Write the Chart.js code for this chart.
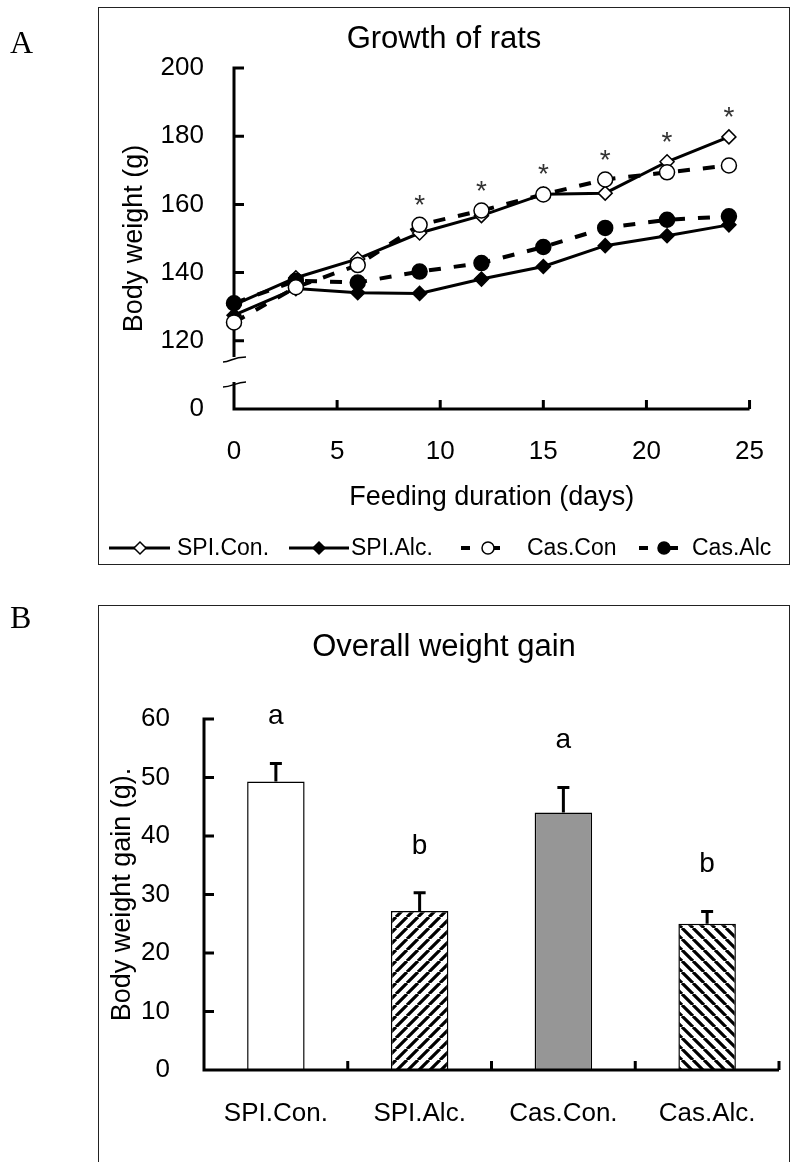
<!DOCTYPE html>
<html>
<head>
<meta charset="utf-8">
<title>Growth of rats</title>
<script src="https://cdn.jsdelivr.net/npm/chart.js@4.4.1/dist/chart.umd.min.js"></script>
<style>
  body { margin: 0; background: #fff; }
  #page { position: relative; width: 791px; height: 1162px; overflow: hidden; }
  canvas { position: absolute; left: 0; }
  #chartA { top: 0; }
  #chartB { top: 565px; }
  .frame { position: absolute; left: 98px; width: 692px; border: 1.5px solid #222; box-sizing: border-box; pointer-events: none; }
  #frameA { top: 7px; height: 558px; }
  #frameB { top: 605px; height: 600px; }
  .tag { position: absolute; left: 10px; font: 32px "Liberation Serif", "Times New Roman", serif; line-height: 1; }
</style>
</head>
<body>
<div id="page">
  <canvas id="chartA" width="791" height="565"></canvas>
  <canvas id="chartB" width="791" height="597"></canvas>
  <div class="frame" id="frameA"></div>
  <div class="frame" id="frameB"></div>
  <div class="tag" style="top:26px">A</div>
  <div class="tag" style="top:601px">B</div>
</div>
<script>
// panel A: body weight over time
const days = [0, 3, 6, 9, 12, 15, 18, 21, 24];
const spiCon = [130.5, 138.5, 144.0, 151.6, 156.7, 163.0, 163.3, 172.5, 179.8];
const spiAlc = [127.5, 135.3, 134.1, 133.9, 138.1, 141.8, 147.9, 150.8, 154.0];
const casCon = [125.4, 135.7, 142.2, 154.0, 158.2, 162.9, 167.3, 169.4, 171.4];
const casAlc = [131.0, 137.6, 137.1, 140.3, 142.8, 147.5, 153.1, 155.5, 156.5];
const sigDays = [9, 12, 15, 18, 21, 24];

// panel B: overall weight gain
const groups = ['SPI.Con.', 'SPI.Alc.', 'Cas.Con.', 'Cas.Alc.'];
const gain = [49.3, 27.2, 44.0, 25.0];
const gainErr = [3.1, 3.1, 4.3, 2.1];
const gainLetters = ['a', 'b', 'a', 'b'];

Chart.defaults.font.family = '"Liberation Sans", Arial, sans-serif';
Chart.defaults.color = '#000';

const ink = '#000';
const FONT = '"Liberation Sans", Arial, sans-serif';

function toPoints(vals) {
    return vals.map((v, i) => ({ x: days[i], y: v }));
}

function makeHatch(dir) {
    const s = 11;
    const c = document.createElement('canvas');
    c.width = s;
    c.height = s;
    const g = c.getContext('2d');
    g.fillStyle = '#fff';
    g.fillRect(0, 0, s, s);
    g.strokeStyle = '#000';
    g.lineWidth = 3.2;
    g.beginPath();
    for (let k = -1; k <= 1; k++) {
        if (dir > 0) {
            g.moveTo(k * s, s);
            g.lineTo(k * s + s, 0);
        } else {
            g.moveTo(k * s, 0);
            g.lineTo(k * s + s, s);
        }
    }
    g.stroke();
    return g.createPattern(c, 'repeat');
}

const seriesA = [
    { label: 'SPI.Con.', data: toPoints(spiCon), borderDash: [], pointStyle: 'rectRot', pointRadius: 7, pointBackgroundColor: '#fff', order: 2 },
    { label: 'SPI.Alc.', data: toPoints(spiAlc), borderDash: [], pointStyle: 'rectRot', pointRadius: 7, pointBackgroundColor: ink, order: 2 },
    { label: 'Cas.Con', data: toPoints(casCon), borderDash: [12, 13], pointStyle: 'circle', pointRadius: 7.5, pointBackgroundColor: '#fff', order: 1 },
    { label: 'Cas.Alc', data: toPoints(casAlc), borderDash: [12, 13], pointStyle: 'circle', pointRadius: 7.5, pointBackgroundColor: ink, order: 1 }
].map(d => Object.assign({
    borderColor: ink,
    borderWidth: d.borderDash.length ? 4 : 3,
    pointBorderColor: ink,
    pointBorderWidth: 1.5,
    tension: 0,
    clip: false
}, d));

const axesA = {
    id: 'axesA',
    beforeDatasetsDraw(chart) {
        const { ctx, chartArea: a, scales: { x, y } } = chart;
        const y0 = y.getPixelForValue(100);
        const yb = y0 - 52;
        const yc = y0 - 27;
        ctx.save();
        ctx.strokeStyle = ink;
        ctx.lineWidth = 3;
        ctx.beginPath();
        ctx.moveTo(a.left, a.top - 1);
        ctx.lineTo(a.left, yb);
        ctx.moveTo(a.left, yc);
        ctx.lineTo(a.left, y0);
        ctx.lineTo(a.right, y0);
        y.ticks.forEach(t => {
            if (t.value > 100) {
                const p = y.getPixelForValue(t.value);
                ctx.moveTo(a.left - 1.5, p);
                ctx.lineTo(a.left + 10, p);
            }
        });
        x.ticks.forEach(t => {
            if (t.value > 0) {
                const p = x.getPixelForValue(t.value);
                ctx.moveTo(p, y0);
                ctx.lineTo(p, y0 - 9);
            }
        });
        ctx.stroke();

        // axis break marks
        ctx.lineWidth = 1.5;
        ctx.beginPath();
        ctx.moveTo(a.left - 11, yb + 5);
        ctx.bezierCurveTo(a.left - 3, yb + 5, a.left - 2, yb, a.left + 12, yb);
        ctx.moveTo(a.left + 12, yc);
        ctx.bezierCurveTo(a.left + 2, yc, a.left - 2, yc + 5, a.left - 11, yc + 5);
        ctx.stroke();
        ctx.restore();
    },
    afterDatasetsDraw(chart) {
        const { ctx, scales: { x, y } } = chart;
        ctx.save();
        ctx.font = '28px ' + FONT;
        ctx.fillStyle = '#333';
        ctx.textAlign = 'center';
        ctx.textBaseline = 'alphabetic';
        sigDays.forEach(d => {
            const i = days.indexOf(d);
            const top = Math.max(spiCon[i], spiAlc[i], casCon[i], casAlc[i]);
            ctx.fillText('*', x.getPixelForValue(d), y.getPixelForValue(top) - 27 + 16);
        });
        ctx.restore();
    },
    afterDraw(chart) {
        const { ctx } = chart;
        const ly = 548;
        const slots = [
            { x0: 109, x1: 170, mx: 140, tx: 177 },
            { x0: 289, x1: 349, mx: 319, tx: 351 },
            { x0: 461, x1: 505, mx: 488, tx: 527 },
            { x0: 639, x1: 681, mx: 664, tx: 692 }
        ];
        ctx.save();
        chart.data.datasets.forEach((ds, i) => {
            const s = slots[i];
            ctx.strokeStyle = ink;
            ctx.lineWidth = ds.borderWidth;
            ctx.setLineDash(ds.borderDash.length ? [9, 21] : []);
            ctx.beginPath();
            ctx.moveTo(s.x0, ly);
            ctx.lineTo(s.x1, ly);
            ctx.stroke();
            ctx.setLineDash([]);
            ctx.fillStyle = ds.pointBackgroundColor;
            ctx.lineWidth = 1.5;
            Chart.helpers.drawPoint(ctx, { pointStyle: ds.pointStyle, radius: 6, borderWidth: 1.5, rotation: 0 }, s.mx, ly);
            ctx.fillStyle = ink;
            ctx.font = '23px ' + FONT;
            ctx.textAlign = 'left';
            ctx.textBaseline = 'middle';
            ctx.fillText(ds.label, s.tx, ly + 1);
        });
        ctx.restore();
    }
};

new Chart(document.getElementById('chartA'), {
    type: 'line',
    data: { datasets: seriesA },
    options: {
        responsive: false,
        animation: false,
        devicePixelRatio: 1,
        layout: { padding: { top: 8, left: 98, right: 1, bottom: 40 } },
        plugins: {
            legend: { display: false },
            tooltip: { enabled: false },
            title: {
                display: true,
                text: 'Growth of rats',
                color: ink,
                font: { size: 31, weight: 'normal' },
                padding: { top: 12.4, bottom: 10.4 }
            }
        },
        scales: {
            x: {
                type: 'linear',
                min: 0,
                max: 25,
                afterFit: s => { s.height = 116; },
                grid: { display: false, drawTicks: false },
                border: { display: false },
                ticks: { stepSize: 5, padding: 27, font: { size: 26 }, autoSkip: false, maxRotation: 0 },
                title: { display: true, text: 'Feeding duration (days)', font: { size: 27 }, padding: { top: 0, bottom: 11 } }
            },
            y: {
                type: 'linear',
                min: 100,
                max: 200,
                afterFit: s => { s.width = 136; },
                grid: { display: false, drawTicks: false },
                border: { display: false },
                ticks: { stepSize: 20, padding: 30, font: { size: 26 }, callback: v => (v === 100 ? '0' : v) },
                title: { display: true, text: 'Body weight (g)', font: { size: 27 }, padding: { top: 20, bottom: 0 } }
            },
            pad: {
                type: 'linear',
                position: 'right',
                afterFit: s => { s.width = 33; },
                grid: { display: false, drawTicks: false },
                border: { display: false },
                ticks: { display: false }
            }
        }
    },
    plugins: [axesA]
});

const axesB = {
    id: 'axesB',
    afterDatasetsDraw(chart) {
        const { ctx, chartArea: a, scales: { x, y } } = chart;
        const y0 = y.getPixelForValue(0);
        ctx.save();
        ctx.strokeStyle = ink;

        // error bars (upper half only)
        ctx.lineWidth = 3;
        ctx.beginPath();
        const bars = chart.getDatasetMeta(0).data;
        bars.forEach((bar, i) => {
            const top = y.getPixelForValue(gain[i] + gainErr[i]);
            ctx.moveTo(bar.x, bar.y);
            ctx.lineTo(bar.x, top);
            ctx.moveTo(bar.x - 6, top);
            ctx.lineTo(bar.x + 6, top);
        });
        ctx.stroke();

        // axes with inward ticks
        ctx.beginPath();
        ctx.moveTo(a.left, a.top - 1);
        ctx.lineTo(a.left, y0);
        ctx.lineTo(a.right, y0);
        y.ticks.forEach(t => {
            if (t.value > 0) {
                const p = y.getPixelForValue(t.value);
                ctx.moveTo(a.left - 1.5, p);
                ctx.lineTo(a.left + 10, p);
            }
        });
        const step = (a.right - a.left) / groups.length;
        for (let i = 1; i <= groups.length; i++) {
            const p = a.left + i * step;
            ctx.moveTo(p, y0);
            ctx.lineTo(p, y0 - 9);
        }
        ctx.stroke();

        // significance letters
        ctx.fillStyle = ink;
        ctx.font = '28px ' + FONT;
        ctx.textAlign = 'center';
        ctx.textBaseline = 'alphabetic';
        bars.forEach((bar, i) => {
            const top = y.getPixelForValue(gain[i] + gainErr[i]);
            ctx.fillText(gainLetters[i], bar.x, top - 39);
        });
        ctx.restore();
    }
};

new Chart(document.getElementById('chartB'), {
    type: 'bar',
    data: {
        labels: groups,
        datasets: [{
            label: 'Body weight gain',
            data: gain,
            backgroundColor: ['#ffffff', makeHatch(1), '#969696', makeHatch(-1)],
            borderColor: ink,
            borderWidth: 1.5,
            barPercentage: 0.4,
            categoryPercentage: 1
        }]
    },
    options: {
        responsive: false,
        animation: false,
        devicePixelRatio: 1,
        layout: { padding: { top: 40, left: 98, right: 1, bottom: 0 } },
        plugins: {
            legend: { display: false },
            tooltip: { enabled: false },
            title: {
                display: true,
                text: 'Overall weight gain',
                color: ink,
                font: { size: 31, weight: 'normal' },
                padding: { top: 23.4, bottom: 53.4 }
            }
        },
        scales: {
            x: {
                afterFit: s => { s.height = 92; },
                grid: { display: false, drawTicks: false },
                border: { display: false },
                ticks: { padding: 28, font: { size: 26 }, autoSkip: false, maxRotation: 0 }
            },
            y: {
                min: 0,
                max: 60,
                afterFit: s => { s.width = 106; },
                grid: { display: false, drawTicks: false },
                border: { display: false },
                ticks: { stepSize: 10, padding: 34, font: { size: 26 } },
                title: { display: true, text: 'Body weight gain (g).', font: { size: 27 }, padding: { top: 8, bottom: 0 } }
            },
            pad: {
                type: 'linear',
                position: 'right',
                afterFit: s => { s.width = 11; },
                grid: { display: false, drawTicks: false },
                border: { display: false },
                ticks: { display: false }
            }
        }
    },
    plugins: [axesB]
});
</script>
</body>
</html>
